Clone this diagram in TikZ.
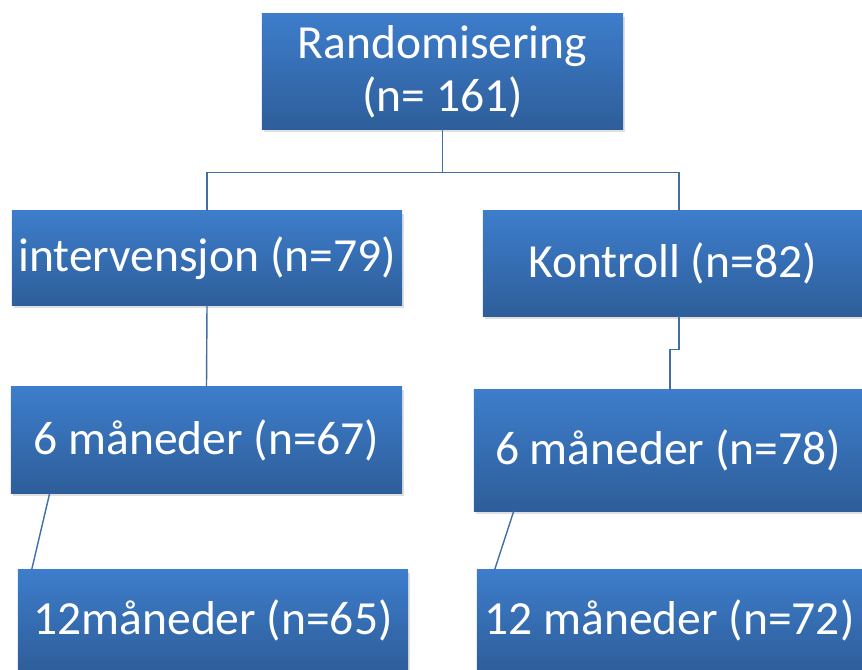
\documentclass[tikz,border=0pt]{standalone}
\usepackage{fontspec}
\setmainfont{Carlito}
\usetikzlibrary{shadows,calc}

\definecolor{boxtop}{RGB}{61,125,203}
\definecolor{boxbot}{RGB}{46,94,154}
\definecolor{linkcol}{RGB}{66,110,168}

\begin{document}
\begin{tikzpicture}[x=0.025cm, y=-0.025cm,
  box/.style={top color=boxtop, bottom color=boxbot, text=white, inner sep=0pt,
    align=center, font=\fontsize{33.8}{37.7}\selectfont,
    drop shadow={opacity=0.25, shadow xshift=1.5pt, shadow yshift=-2pt}},
  link/.style={draw=linkcol, line width=1pt}]
\useasboundingbox (0,0) rectangle (862,670);

% Randomisation
\node[box, minimum width=9.025cm, minimum height=2.875cm] (rand) at (442.5,71.5) {Randomisering\\(n= 161)};

% Arms
\node[box, minimum width=9.75cm, minimum height=2.35cm] (intv) at (207,258) {intervensjon (n=79)};
\node[box, minimum width=9.475cm, minimum height=2.625cm] (kont) at (672.5,263.5) {Kontroll (n=82)};

% 6 months
\node[box, minimum width=9.775cm, minimum height=2.65cm] (m6a) at (206.5,440) {6 måneder (n=67)};
\node[box, minimum width=9.7cm, minimum height=3.025cm] (m6b) at (668,450.5) {6 måneder (n=78)};

% 12 months
\node[box, minimum width=9.75cm, minimum height=2.5cm] (m12a) at (213,620) {12måneder (n=65)};
\node[box, minimum width=9.625cm, minimum height=2.5cm] (m12b) at (669.5,620) {12 måneder (n=72)};

% Connectors
\coordinate (split) at ($(rand.south)+(0,43)$);
\coordinate (kin) at ($(kont.north)+(6.5,0)$);
\draw[link] (rand.south) -- (split) -| (intv.north);
\draw[link] (split) -| (kin);
\draw[link] (intv.south) -- (m6a.north);
\draw[link] ($(kont.south)+(6.5,0)$) -- ++(0,33) -| ($(m6b.north)+(2,0)$);
\draw[link] ($(m6a.south west)+(39,0)$) -- ($(m12a.north west)+(14,0)$);
\draw[link] ($(m6b.south west)+(40,0)$) -- ($(m12b.north west)+(18,0)$);

\end{tikzpicture}
\end{document}
